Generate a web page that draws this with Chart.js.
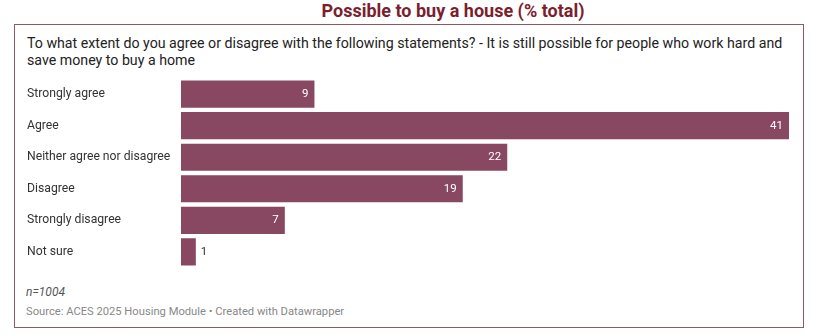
<!DOCTYPE html>
<html>
<head>
<meta charset="utf-8">
<script src="https://cdn.jsdelivr.net/npm/chart.js@4"></script>
<style>
  body { margin: 0; background: #fff; font-family: Roboto, "Noto Sans", sans-serif; }
  #wrap { position: relative; width: 813px; height: 335px; }
  #title { position: absolute; left: 0; top: 0; width: 906px; text-align: center;
           font-size: 18px; font-weight: bold; color: #7b1f2e; white-space: nowrap; }
  #box { position: absolute; left: 14px; top: 24px; width: 788px; height: 302px;
         border: 1px solid #8c5a60; }
  #question { position: absolute; left: 27px; top: 35px; font-size: 14.2px; line-height: 17px;
              color: #222; white-space: nowrap; }
  #note { position: absolute; left: 26px; top: 285px; font-size: 12px; font-style: italic; color: #555; }
  #source { position: absolute; left: 26px; top: 305px; font-size: 11.2px; color: #888; }
  #chartBox { position: absolute; left: 27px; top: 71px; width: 762px; height: 204px; }
</style>
</head>
<body>
<div id="wrap">
  <div id="title">Possible to buy a house (% total)</div>
  <div id="box"></div>
  <div id="question">To what extent do you agree or disagree with the following statements? - It is still possible for people who work hard and<br>save money to buy a home</div>
  <div id="chartBox"><canvas id="myChart"></canvas></div>
  <div id="note">n=1004</div>
  <div id="source">Source: ACES 2025 Housing Module • Created with Datawrapper</div>
</div>
<script>
// Answers and share of respondents (%)
const answers = ['Strongly agree', 'Agree', 'Neither agree nor disagree', 'Disagree', 'Strongly disagree', 'Not sure'];
const shares = [9, 41, 22, 19, 7, 1];

// Write the value at the end of each bar, outside when the bar is too short
const valueLabels = {
    id: 'valueLabels',
    afterDatasetsDraw(chart) {
        const ctx = chart.ctx;
        const meta = chart.getDatasetMeta(0);
        ctx.save();
        ctx.font = '11.5px Roboto, sans-serif';
        ctx.textBaseline = 'middle';
        meta.data.forEach((bar, i) => {
            const text = String(shares[i]);
            const w = bar.x - bar.base;
            if (w > 25) {
                ctx.fillStyle = '#fff';
                ctx.textAlign = 'right';
                ctx.fillText(text, bar.x - 6, bar.y);
            } else {
                ctx.fillStyle = '#333';
                ctx.textAlign = 'left';
                ctx.fillText(text, bar.x + 5, bar.y);
            }
        });
        ctx.restore();
    }
};

const ctx = document.getElementById('myChart').getContext('2d');
const chart = new Chart(ctx, {
    type: 'bar',
    data: {
        labels: answers,
        datasets: [{
            data: shares,
            backgroundColor: '#894861',
            borderWidth: 0,
            barPercentage: 0.86,
            categoryPercentage: 1
        }]
    },
    options: {
        indexAxis: 'y',
        responsive: true,
        maintainAspectRatio: false,
        animation: false,
        layout: { padding: 0 },
        plugins: {
            legend: { display: false },
            tooltip: { enabled: false }
        },
        scales: {
            x: { display: false, min: 0, max: 41 },
            y: {
                grid: { display: false },
                border: { display: false },
                ticks: {
                    crossAlign: 'far',
                    color: '#333',
                    font: { family: 'Roboto', size: 12.2 },
                    padding: 0
                },
                afterFit(scale) { scale.width = 154; }
            }
        }
    },
    plugins: [valueLabels]
});
</script>
</body>
</html>
